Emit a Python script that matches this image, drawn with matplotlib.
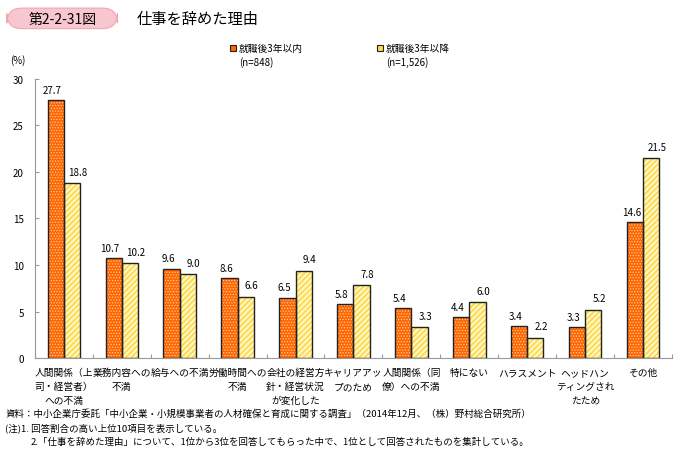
import numpy as np
import matplotlib.pyplot as plt
from matplotlib.patches import FancyBboxPatch, Rectangle

plt.rcParams['font.family'] = ['Noto Sans CJK JP', 'DejaVu Sans']

categories = ["人間関係（上\n司・経営者）\nへの不満", "業務内容への\n不満", "給与への不満",
              "労働時間への\n不満", "会社の経営方\n針・経営状況\nが変化した", "キャリアアッ\nプのため",
              "人間関係（同\n僚）への不満", "特にない", "ハラスメント", "ヘッドハン\nティングされ\nたため",
              "その他"]
within3 = [27.7, 10.7, 9.6, 8.6, 6.5, 5.8, 5.4, 4.4, 3.4, 3.3, 14.6]
after3 = [18.8, 10.2, 9.0, 6.6, 9.4, 7.8, 3.3, 6.0, 2.2, 5.2, 21.5]
yticks = [0, 5, 10, 15, 20, 25, 30]

fig = plt.figure(figsize=(6.83, 4.56), dpi=100)
ax = fig.add_axes([0.051, 0.2127, 0.933, 0.6119])

x = np.arange(len(categories))
w = 0.28
orange = '#FF6600'
yellow = '#FFD84A'

# orange bars with white dots, yellow bars with stripes; outlines drawn on top
with plt.rc_context({'hatch.linewidth': 0.6}):
    ax.bar(x - w/2, within3, w, color=orange, edgecolor='#FFC9A0', hatch='......', linewidth=0)
with plt.rc_context({'hatch.linewidth': 1.3}):
    ax.bar(x + w/2, after3, w, color='#FFF8C8', edgecolor=yellow, hatch='//////', linewidth=0)
ax.bar(x - w/2, within3, w, facecolor='none', edgecolor='#222222', linewidth=1.0)
ax.bar(x + w/2, after3, w, facecolor='none', edgecolor='#222222', linewidth=1.0)

for xi, v in zip(x, within3):
    ax.text(xi - w/2 - 0.06, v + 1.1, f"{v:.1f}", ha='center', va='center', fontsize=7)
for xi, v in zip(x, after3):
    ax.text(xi + w/2 + 0.1, v + 1.2, f"{v:.1f}", ha='center', va='center', fontsize=7)

ax.set_xlim(-0.5, len(categories) - 0.5)
ax.set_ylim(0, 30)
ax.set_yticks(yticks)
ax.tick_params(axis='y', labelsize=7, length=3, direction='in', color='#999999', pad=8)
ax.set_xticks(np.arange(len(categories) + 1) - 0.5, minor=False)
ax.set_xticklabels([])
ax.tick_params(axis='x', length=3, direction='in', color='#999999')
for s in ['top', 'right']:
    ax.spines[s].set_visible(False)
ax.spines['left'].set_color('#999999')
ax.spines['bottom'].set_color('#999999')

for xi, c in zip(x, categories):
    ax.text(xi, -1.0, c, ha='center', va='top', fontsize=7, linespacing=1.5,
            transform=ax.transData)

# title
box = FancyBboxPatch((0.01, 0.935), 0.162, 0.045, boxstyle="round,pad=0,rounding_size=0.022",
                     transform=fig.transFigure, facecolor='#F7C6CE', edgecolor='#EFA6B2', linewidth=0.8,
                     mutation_aspect=1.5)
fig.patches.append(box)
fig.text(0.092, 0.957, "第2-2-31図", ha='center', va='center', fontsize=10)
fig.text(0.2, 0.957, "仕事を辞めた理由", ha='left', va='center', fontsize=11)

fig.text(0.015, 0.868, "(%)", fontsize=7, va='center')

# legend
fig.patches.append(Rectangle((0.337, 0.885), 0.009, 0.014, transform=fig.transFigure,
                             facecolor=orange, edgecolor='#222222', linewidth=0.8))
fig.text(0.35, 0.892, "就職後3年以内", fontsize=7, va='center')
fig.text(0.35, 0.862, "(n=848)", fontsize=7, va='center')
fig.patches.append(Rectangle((0.552, 0.885), 0.009, 0.014, transform=fig.transFigure,
                             facecolor=yellow, edgecolor='#222222', linewidth=0.8))
fig.text(0.565, 0.892, "就職後3年以降", fontsize=7, va='center')
fig.text(0.565, 0.862, "(n=1,526)", fontsize=7, va='center')

# notes
fig.text(0.008, 0.092, "資料：中小企業庁委託「中小企業・小規模事業者の人材確保と育成に関する調査」（2014年12月、（株）野村総合研究所）",
         fontsize=6.8, va='center')
fig.text(0.008, 0.061, "(注)1. 回答割合の高い上位10項目を表示している。", fontsize=6.8, va='center')
fig.text(0.045, 0.030, "2.「仕事を辞めた理由」について、1位から3位を回答してもらった中で、1位として回答されたものを集計している。",
         fontsize=6.8, va='center')

fig.savefig('out.png', dpi=100)
